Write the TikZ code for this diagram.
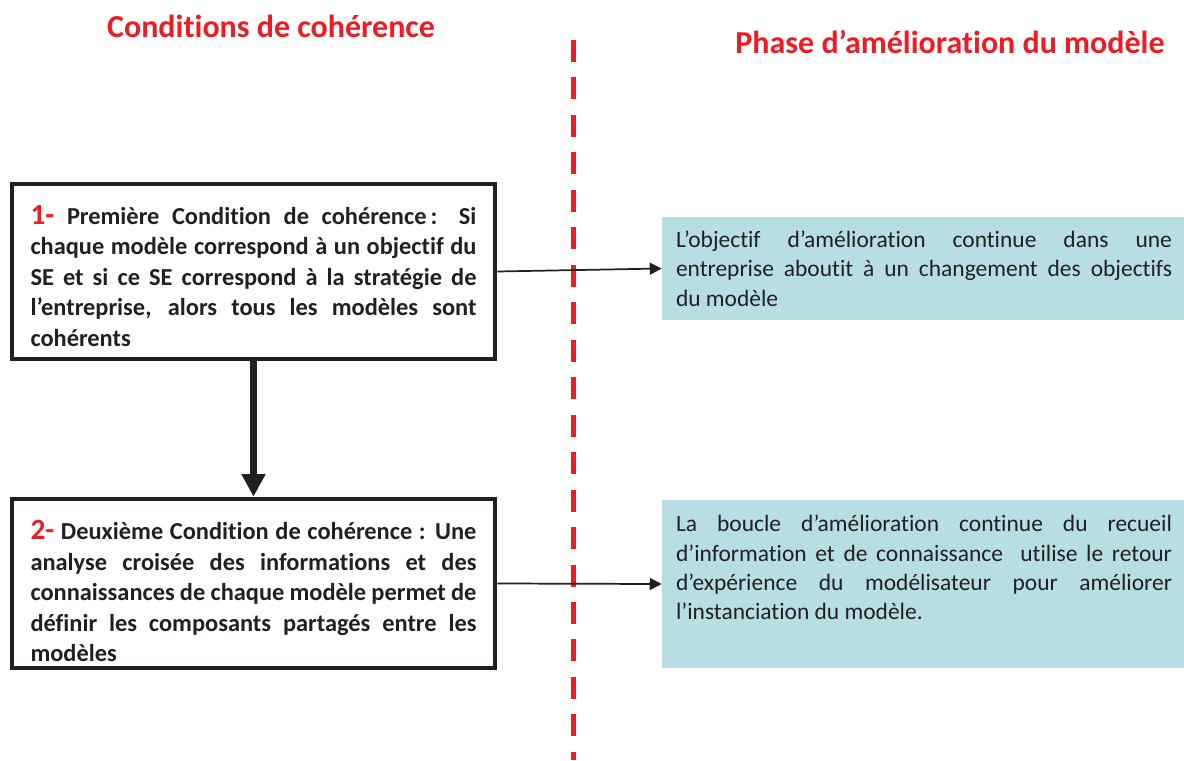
\documentclass[tikz,border=0pt]{standalone}
\usepackage{fontspec}
\setmainfont{Carlito}[Ligatures={NoCommon}]
\usetikzlibrary{arrows.meta}
\definecolor{tred}{RGB}{237,28,36}
\definecolor{cyanbg}{RGB}{183,222,226}
\definecolor{ink}{RGB}{35,31,32}
\tikzset{
  condbox/.style={draw=ink, line width=3.4pt, minimum width=362.25pt, inner sep=0pt},
  condtext/.style={text width=334.5pt, align=justify, inner sep=0pt, text=ink,
     font=\bfseries\fontsize{18.3}{22.9}\selectfont},
  obox/.style={fill=cyanbg, draw=none, minimum width=391.5pt, inner sep=0pt},
  otext/.style={text width=372pt, align=justify, inner sep=0pt, text=ink,
     font=\fontsize{17.6}{22}\selectfont},
  title/.style={text=tred, font=\bfseries\fontsize{24}{28}\selectfont, inner sep=0pt},
  thinarrow/.style={draw=ink, line width=1.3pt, -{Triangle[length=9pt,width=9pt]}},
  thickarrow/.style={draw=ink, line width=5.25pt, -{Triangle[length=17pt,width=17pt]}},
  dashline/.style={draw=tred, line width=3.75pt, dash pattern=on 16.5pt off 11.6pt}
}
\newcommand{\numr}[1]{{\color{tred}\fontsize{22}{22}\selectfont #1}}
\begin{document}
\begin{tikzpicture}[x=0.75pt,y=-0.75pt]
\useasboundingbox (0,0) rectangle (1184,760);
% titles
\node[title] (t1) at (271,26) {Conditions de cohérence};
\node[title] (t2) at (950,42) {Phase d’amélioration du modèle};
% divider
\coordinate (dtop) at (573,40);
\coordinate (dbot) at (573,760);
\draw[dashline] (dtop) -- (dbot);
% left boxes
\node[condbox, minimum height=131.25pt] (c1) at (253.5,271.5) {};
\node[condtext] (c1t) at (253.5,276) {\numr{1-} Première Condition de cohérence\,: Si\linebreak
chaque modèle correspond à un objectif du\linebreak
SE et si ce SE correspond à la stratégie de\linebreak
l’entreprise, alors tous les modèles sont\linebreak
cohérents};
\node[condbox, minimum height=126.75pt] (c2) at (253.5,583.5) {};
\node[condtext] (c2t) at (253.5,591) {\numr{2-} Deuxième Condition de cohérence : Une\linebreak
analyse croisée des informations et des\linebreak
connaissances de chaque modèle permet de\linebreak
définir les composants partagés entre les\linebreak
modèles};
% right boxes
\node[obox, minimum height=77.25pt] (o1) at (923,268.5) {};
\node[otext] (o1t) at (924,268.5) {L’objectif d’amélioration continue dans une\linebreak
entreprise aboutit à un changement des objectifs\linebreak
du modèle};
\node[obox, minimum height=126pt] (o2) at (923,584) {};
\node[otext] (o2t) at (924,567.5) {La boucle d’amélioration continue du recueil\linebreak
d’information et de connaissance\ \ utilise le retour\linebreak
d’expérience du modélisateur pour améliorer\linebreak
l’instanciation du modèle.};
% connectors
\draw[thickarrow] (c1.south) -- (c2.north);
\draw[thinarrow] (c1.east) -- (o1.west);
\draw[thinarrow] (c2.east) -- (o2.west);
\end{tikzpicture}
\end{document}
